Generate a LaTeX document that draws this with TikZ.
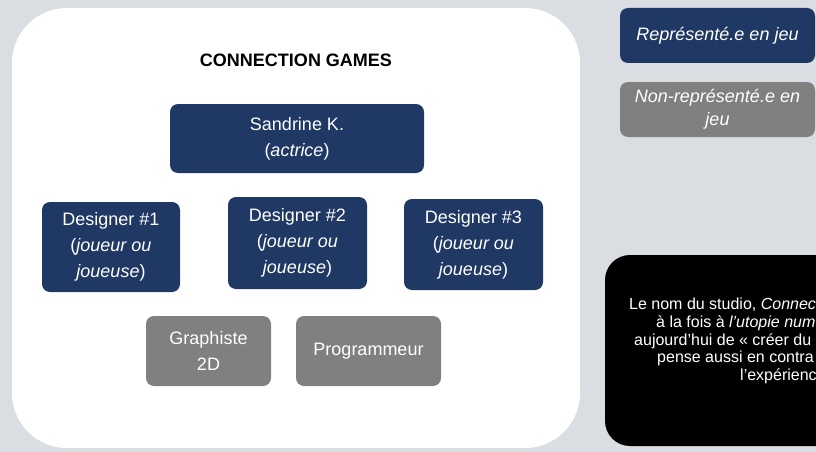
\documentclass[tikz,border=0pt]{standalone}
\usepackage{fontspec}
\setmainfont{Liberation Sans}
\usepackage{tikz}
\definecolor{my_navy}{HTML}{1F3864}
\definecolor{my_gray}{HTML}{808080}
\definecolor{my_back}{HTML}{DADDE1}
\definecolor{my_white}{HTML}{FFFFFF}

\begin{document}
\begin{tikzpicture}[
    x=1pt, y=-1pt,
    box/.style={rounded corners=8pt, text=white, align=center,
                inner sep=0pt, font=\fontsize{18}{26}\selectfont},
    rolebox/.style={box, fill=my_navy},
    staffbox/.style={box, fill=my_gray},
    noteline/.style={anchor=base west, text=white, inner sep=0pt,
                     font=\fontsize{16}{18}\selectfont}
]
\useasboundingbox (0,0) rectangle (816,452);

% -------- Background and studio panel -----------------------
\fill[my_back] (0,0) rectangle (816,452);
\fill[my_white, rounded corners=55pt] (12,8) rectangle (580,448);

\node[font=\bfseries\fontsize{18}{22}\selectfont] (title) at (296,60)
    {CONNECTION GAMES};

% -------- Studio members ------------------------------------
\node[rolebox, minimum width=254pt, minimum height=69pt] (sandrine)
    at (297,138.5) {Sandrine K.\\(\textit{actrice})};
\node[rolebox, minimum width=138pt, minimum height=90pt] (designer1)
    at (111,247) {Designer \#1\\(\textit{joueur ou}\\\textit{joueuse})};
\node[rolebox, minimum width=139pt, minimum height=92pt] (designer2)
    at (297.5,243) {Designer \#2\\(\textit{joueur ou}\\\textit{joueuse})};
\node[rolebox, minimum width=139pt, minimum height=91pt] (designer3)
    at (473.5,244.5) {Designer \#3\\(\textit{joueur ou}\\\textit{joueuse})};
\node[staffbox, minimum width=125pt, minimum height=70pt] (graphiste)
    at (208.5,351) {Graphiste\\2D};
\node[staffbox, minimum width=145pt, minimum height=70pt] (programmeur)
    at (368.5,351) {Programmeur};

% -------- Legend --------------------------------------------
\node[rolebox, minimum width=195pt, minimum height=55pt] (legendin)
    at (717.5,35.5) {\textit{Représenté.e en jeu}};
\node[staffbox, minimum width=195pt, minimum height=55pt,
      font=\fontsize{18}{23}\selectfont] (legendout)
    at (717.5,109.5) {\textit{Non-représenté.e en}\\\textit{jeu}};

% -------- Note (cut by the right edge, as in the slide) -----
\begin{scope}
\clip (0,0) rectangle (816,452);
\fill[black, rounded corners=25pt] (605,255) rectangle (850,446);
\node[noteline] (note1) at (629,309.5) {Le nom du studio, \textit{Connec}};
\node[noteline] (note2) at (656,327) {à la fois à \textit{l’utopie num}};
\node[noteline] (note3) at (634,345) {aujourd’hui de «~créer du};
\node[noteline] (note4) at (657,362.5) {pense aussi en contra};
\node[noteline] (note5) at (740,380.5) {l’expérienc};
\end{scope}

\end{tikzpicture}
\end{document}
